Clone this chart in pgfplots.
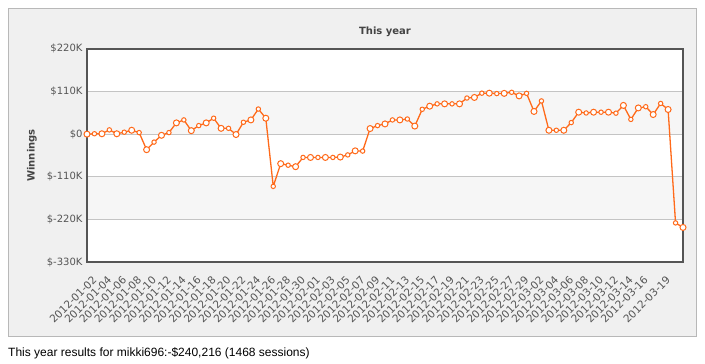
\documentclass[border=0pt]{standalone}
\usepackage{pgfplots}
\pgfplotsset{compat=1.18}
\usepackage{pgfplotstable}
\usepackage{fontspec}
\setmainfont{DejaVu Sans}
\newfontfamily\arialfont{Liberation Sans}
\definecolor{lineorange}{HTML}{FF6A1A}
\definecolor{framegray}{HTML}{555555}
\definecolor{tickgray}{HTML}{555555}
\definecolor{titlegray}{HTML}{444444}
\definecolor{gridgray}{HTML}{C4C4C4}
\definecolor{bandgray}{HTML}{F6F6F6}
\definecolor{panelgray}{HTML}{F0F0F0}
\definecolor{panelborder}{HTML}{B8B8B8}

\pgfplotstableread{
day val
0 0
1 1
2 1
3 11
4 1
5 5
6 10
7 4
8 -40
9 -20.5
10 -3
11 4
12 29
13 36.6
14 9
15 22
16 29
17 41
18 15
19 15
20 -1
21 30.6
22 36.6
23 64.7
24 41
25 -134.5
26 -76
27 -80
28 -83.8
29 -60
30 -60
31 -60
32 -60
33 -60
34 -59
35 -53.5
36 -43
37 -43.6
38 14.4
39 22
40 26.3
41 36.6
42 36.6
43 39
44 20.8
45 64
46 72
47 78
48 78
49 78
50 78
51 93
52 94.5
53 105.5
54 105.5
55 104.5
56 105
57 107.7
58 98.5
59 105
60 58.5
61 85.5
62 10
63 10
64 10
65 29.8
66 56.5
67 54.5
68 56.5
69 56.5
70 56.5
71 54
72 74
73 38
74 67.5
75 70.6
76 50.5
77 79
78 63.5
79 -228.6
80 -240.2
}\winnings

\begin{document}
\begin{tikzpicture}[x=1pt,y=1pt]
\fill[white] (0,0) rectangle (705,364);
\filldraw[fill=panelgray, draw=panelborder, line width=1pt] (8.5,27.5) rectangle (696.5,355.5);
\fill[white] (87,101.7) rectangle (683,315.3);
\fill[bandgray] (87,229.86) rectangle (683,272.58);
\fill[bandgray] (87,144.42) rectangle (683,187.14);
\node[anchor=base west, inner sep=0pt, font=\arialfont\fontsize{12}{14}\selectfont] at (8,7.3)
  {This year results for mikki696:-\$240,216 (1468 sessions)};
\node[anchor=base, inner sep=0pt, font=\bfseries\fontsize{10}{12}\selectfont, text=titlegray] at (385,329.2) {This year};
\begin{axis}[
  at={(87pt,101.7pt)}, anchor=south west,
  scale only axis, width=596pt, height=213.6pt,
  xmin=0, xmax=80, ymin=-330, ymax=220,
  clip=false,
  axis line style={draw=framegray, line width=2pt},
  major tick length=0pt,
  ymajorgrids, grid style={draw=gridgray, line width=1pt},
  ytick={-330,-220,-110,0,110,220},
  yticklabels={\$-330K,\$-220K,\$-110K,\$0,\$110K,\$220K},
  yticklabel style={font=\fontsize{10}{12}\selectfont, text=tickgray, inner sep=0pt, xshift=-4.3pt},
  xtick={1,3,5,7,9,11,13,15,17,19,21,23,25,27,29,31,33,35,37,39,41,43,45,47,49,51,53,55,57,59,61,63,65,67,69,71,73,75,78},
  xticklabels={2012-01-02,2012-01-04,2012-01-06,2012-01-08,2012-01-10,2012-01-12,2012-01-14,2012-01-16,2012-01-18,2012-01-20,2012-01-22,2012-01-24,2012-01-26,2012-01-28,2012-01-30,2012-02-01,2012-02-03,2012-02-05,2012-02-07,2012-02-09,2012-02-11,2012-02-13,2012-02-15,2012-02-17,2012-02-19,2012-02-21,2012-02-23,2012-02-25,2012-02-27,2012-02-29,2012-03-02,2012-03-04,2012-03-06,2012-03-08,2012-03-10,2012-03-12,2012-03-14,2012-03-16,2012-03-19},
  xticklabel style={font=\fontsize{10.5}{12}\selectfont, text=tickgray, anchor=east, inner sep=0pt, xshift=0.3pt, yshift=-15.5pt, rotate=45},
  ylabel={Winnings},
  ylabel style={font=\bfseries\fontsize{10}{12}\selectfont, text=titlegray, at={(axis description cs:-0.0923,0.5)}, anchor=center},
]
\addplot[draw=lineorange, line width=1.3pt, mark=*, mark size=2.2pt,
  mark options={fill=white, draw=lineorange, line width=1pt}] table[x=day, y=val] {\winnings};
\addplot[only marks, each nth point=2, mark=*, mark size=3pt,
  mark options={fill=white, draw=lineorange, line width=1pt}] table[x=day, y=val] {\winnings};
\end{axis}
\end{tikzpicture}
\end{document}
